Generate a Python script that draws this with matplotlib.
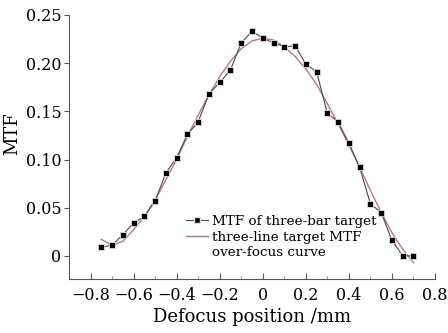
import numpy as np
import matplotlib
matplotlib.use("Agg")
import matplotlib.pyplot as plt
from matplotlib.lines import Line2D
from matplotlib.ticker import MultipleLocator

plt.rcParams['font.family'] = ['DejaVu Serif']
plt.rcParams['mathtext.fontset'] = 'dejavuserif'

# measured MTF of the three-bar target
defocus = [-0.75, -0.70, -0.65, -0.60, -0.55, -0.50, -0.45, -0.40, -0.35, -0.30,
           -0.25, -0.20, -0.15, -0.10, -0.05, 0.00, 0.05, 0.10, 0.15, 0.20,
           0.25, 0.30, 0.35, 0.40, 0.45, 0.50, 0.55, 0.60, 0.65, 0.70]
mtf_bar = [0.009, 0.011, 0.022, 0.034, 0.041, 0.057, 0.086, 0.102, 0.126, 0.139,
           0.168, 0.180, 0.193, 0.221, 0.233, 0.226, 0.221, 0.217, 0.218, 0.199,
           0.191, 0.148, 0.139, 0.117, 0.092, 0.054, 0.045, 0.016, 0.000, 0.000]

# three-line target over-focus curve
curve_x = [-0.75, -0.70, -0.65, -0.60, -0.55, -0.50, -0.45, -0.40, -0.35, -0.30,
           -0.25, -0.20, -0.15, -0.10, -0.05, 0.00, 0.05, 0.10, 0.15, 0.20,
           0.25, 0.30, 0.35, 0.40, 0.45, 0.50, 0.55, 0.60, 0.65, 0.70]
curve_y = [0.017, 0.011, 0.015, 0.027, 0.041, 0.058, 0.079, 0.100, 0.124, 0.146,
           0.167, 0.186, 0.202, 0.215, 0.223, 0.226, 0.224, 0.217, 0.207, 0.194,
           0.178, 0.158, 0.137, 0.115, 0.092, 0.068, 0.045, 0.024, 0.007, -0.007]

xticks = [-0.8, -0.6, -0.4, -0.2, 0, 0.2, 0.4, 0.6, 0.8]
xtick_labels = ['\u22120.8', '\u22120.6', '\u22120.4', '\u22120.2', '0', '0.2', '0.4', '0.6', '0.8']
yticks = [0, 0.05, 0.10, 0.15, 0.20, 0.25]
ytick_labels = ['0', '0.05', '0.10', '0.15', '0.20', '0.25']

fig = plt.figure(figsize=(4.48, 3.33), dpi=100)
ax = fig.add_axes([69 / 448, 0.1622, 366 / 448, 0.7928])

curve_color = '#b57a7a'
ax.plot(curve_x, curve_y, color=curve_color, lw=1.0, zorder=2)
ax.plot(defocus, mtf_bar, color='#4a4a4a', lw=0.8, marker='s', markersize=5,
        markerfacecolor='black', markeredgecolor='#dddddd', markeredgewidth=0.6, zorder=3)

ax.set_xlim(-0.9, 0.8)
ax.set_ylim(-0.024, 0.25)
ax.set_xticks(xticks)
ax.set_xticklabels(xtick_labels)
ax.xaxis.set_minor_locator(MultipleLocator(0.1))
ax.set_yticks(yticks)
ax.set_yticklabels(ytick_labels)

ax.spines['top'].set_visible(False)
ax.spines['right'].set_visible(False)
for s in ['left', 'bottom']:
    ax.spines[s].set_color('#555555')
    ax.spines[s].set_linewidth(0.8)
ax.tick_params(axis='x', which='major', direction='in', length=4, width=0.8, color='#555555',
               labelsize=11.5, pad=6)
ax.tick_params(axis='x', which='minor', direction='in', length=2, width=0.6, color='#888888')
ax.tick_params(axis='y', direction='out', length=3.5, width=0.8, color='#555555',
               labelsize=11.5, pad=2)

ax.set_xlabel('Defocus position /mm', fontsize=13, labelpad=3)
ax.set_ylabel('MTF', fontsize=13, labelpad=3, y=0.55)

h1 = Line2D([], [], color='#4a4a4a', lw=0.8, marker='s', markersize=5,
            markerfacecolor='black', markeredgecolor='#dddddd')
h2 = Line2D([], [], color=curve_color, lw=1.0)
h3 = Line2D([], [], color='none')
ax.legend([h1, h2, h3], ['MTF of three-bar target', 'three-line target MTF', 'over-focus curve'],
          loc='upper left', bbox_to_anchor=(0.32, 0.242), frameon=False, fontsize=9.7,
          borderpad=0, borderaxespad=0, labelspacing=0.2, handlelength=1.6,
          handletextpad=0.3)

fig.savefig('out.png', dpi=100)
